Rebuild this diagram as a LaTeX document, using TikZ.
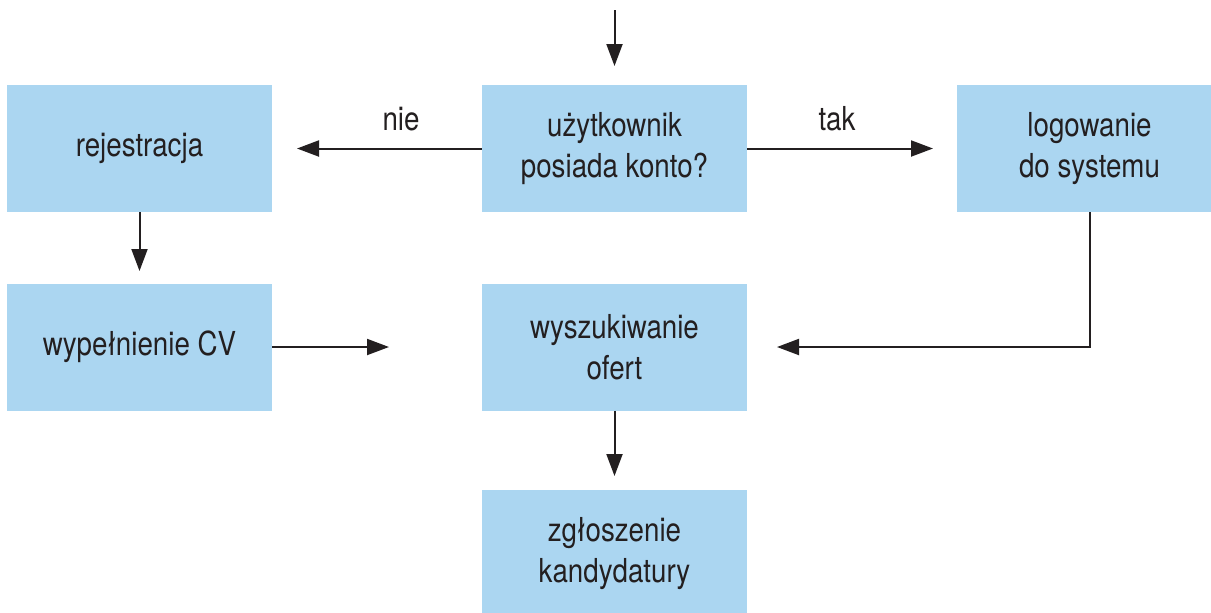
\documentclass[tikz,border=0pt]{standalone}
\usepackage{fontspec}
\setmainfont{TeX Gyre Heros}[FakeStretch=0.84]
\usetikzlibrary{arrows.meta}
\definecolor{pole}{HTML}{ABD6F1}
\definecolor{tusz}{HTML}{231F20}

\begin{document}
\begin{tikzpicture}[x=0.5pt, y=-0.5pt,
	krok/.style={fill=pole, minimum width=132.5pt, minimum height=63.5pt, inner sep=0pt,
		align=center, text=tusz, font=\fontsize{16.5}{20.5}\selectfont},
	strzalka/.style={draw=tusz, line width=1pt, -{Triangle[length=11pt, width=8pt]}},
	etykieta/.style={text=tusz, font=\fontsize{16.5}{20.5}\selectfont}]

\clip (0,0) rectangle (1211,612);

%Kroki
\node[krok] (konto) at (614.5,148.5) {użytkownik\\posiada konto?};
\node[krok] (rej) at (139.5,148.5) {rejestracja};
\node[krok] (log) at (1089.5,148.5) {logowanie\\do systemu};
\node[krok] (cv) at (139.5,347) {wypełnienie CV};
\node[krok] (oferty) at (614.5,347) {wyszukiwanie\\ofert};
\node[krok] (zgl) at (614.5,553.5) {zgłoszenie\\kandydatury};

%Wolne konce
\coordinate (start) at (614.5,10);
\coordinate (startk) at (614.5,66);
\coordinate (nie) at (297,148.5);
\coordinate (tak) at (933,148.5);
\coordinate (rejk) at (139.5,271);
\coordinate (cvk) at (389,347);
\coordinate (logk) at (777,347);
\coordinate (ofk) at (614.5,476);

%Strzalki
\draw[strzalka] (start) -- (startk);
\draw[strzalka] (konto.west) -- (nie);
\draw[strzalka] (konto.east) -- (tak);
\draw[strzalka] (rej.south) -- (rejk);
\draw[strzalka] (cv.east) -- (cvk);
\draw[strzalka] (log.south) |- (logk);
\draw[strzalka] (oferty.south) -- (ofk);

\node[etykieta] (nieet) at (401,119) {nie};
\node[etykieta] (taket) at (837,119) {tak};

\end{tikzpicture}
\end{document}
